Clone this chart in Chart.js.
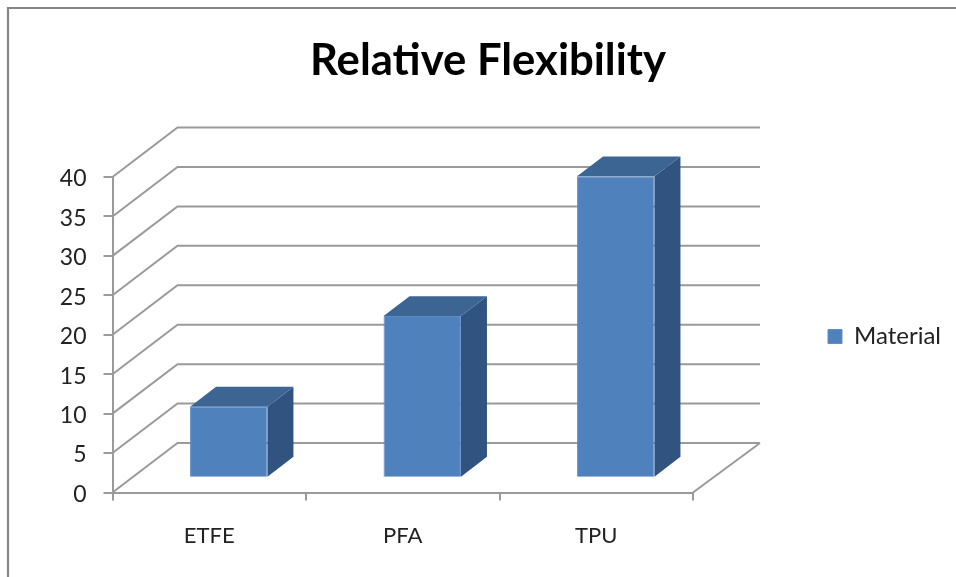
<!DOCTYPE html>
<html>
<head>
<meta charset="utf-8">
<style>
  html, body { margin: 0; padding: 0; background: #fff; }
  #wrap { position: relative; width: 956px; height: 577px; }
</style>
<script src="https://cdn.jsdelivr.net/npm/chart.js@4"></script>
</head>
<body>
<div id="wrap"><canvas id="c" width="956" height="577"></canvas></div>
<script>
const categories = ['ETFE', 'PFA', 'TPU'];
const seriesName = 'Material';
const values = [9, 20.5, 38.2];
const chartTitle = 'Relative Flexibility';

const FONT = 'Lato, "Open Sans", sans-serif';
const LINE = '#9a9a9a';
const FRONT = '#4f81bd';
const TOP = '#3c6594';
const SIDE = '#305380';

// Oblique projection of the chart box: how far the back wall sits from the front plane.
const BOX_DX = 65;
const BOX_DY = -49.5;
// Columns occupy the middle of the floor's depth.
const BAR_NEAR = 0.3;
const BAR_DEPTH = 0.4;

const target = { left: 112.5, right: 693, top: 177, bottom: 492.5 };

const box3d = {
  id: 'box3d',
  beforeDraw(chart) {
    const { ctx, width, height } = chart;
    ctx.save();
    ctx.strokeStyle = '#868686';
    ctx.lineWidth = 2.2;
    ctx.beginPath();
    ctx.moveTo(8, height);
    ctx.lineTo(8, 8);
    ctx.lineTo(width, 8);
    ctx.stroke();
    ctx.restore();
  },
  afterLayout(chart) {
    // Title and legend keep their own spots, independent of the plot margins.
    const tb = chart.titleBlock;
    if (tb) { tb.left = 310; tb.right = 666; tb.top = 34.5; tb.bottom = tb.top + tb.height; }
    const lg = chart.legend;
    if (lg) { lg.top -= 11; lg.bottom -= 11; lg.left = 818; lg.right = 956; }
  },
  beforeDatasetsDraw(chart) {
    const { ctx, scales: { x, y } } = chart;
    const left = x.left, right = x.right, base = y.getPixelForValue(0);
    ctx.save();
    ctx.strokeStyle = LINE;
    ctx.lineWidth = 2;
    ctx.beginPath();
    y.ticks.forEach(t => {
      const py = y.getPixelForValue(t.value);
      ctx.moveTo(left, py);
      ctx.lineTo(left + BOX_DX, py + BOX_DY);
      ctx.lineTo(right + BOX_DX + 2, py + BOX_DY);
    });
    ctx.moveTo(right, base);
    ctx.lineTo(right + BOX_DX + 2, base + BOX_DY);
    ctx.stroke();
    ctx.restore();

    // Shift into the box depth, then add each column's top and side faces.
    const meta = chart.getDatasetMeta(0);
    const ox = BOX_DX * BAR_NEAR, oy = BOX_DY * BAR_NEAR;
    const dx = BOX_DX * BAR_DEPTH, dy = BOX_DY * BAR_DEPTH;
    ctx.save();
    ctx.translate(ox, oy);
    meta.data.forEach(bar => {
      const l = bar.x - bar.width / 2, r = bar.x + bar.width / 2;
      const t = bar.y, b = bar.base;
      ctx.fillStyle = SIDE;
      ctx.beginPath();
      ctx.moveTo(r, t); ctx.lineTo(r + dx, t + dy); ctx.lineTo(r + dx, b + dy); ctx.lineTo(r, b);
      ctx.closePath(); ctx.fill();
      ctx.fillStyle = TOP;
      ctx.beginPath();
      ctx.moveTo(l, t); ctx.lineTo(l + dx, t + dy); ctx.lineTo(r + dx, t + dy); ctx.lineTo(r, t);
      ctx.closePath(); ctx.fill();
    });
  },
  afterDatasetsDraw(chart) {
    chart.ctx.restore();
  }
};

const padding = { left: 8, right: 8, top: 0, bottom: 0 };

const chart = new Chart(document.getElementById('c'), {
  type: 'bar',
  data: {
    labels: categories,
    datasets: [{
      label: seriesName,
      data: values,
      backgroundColor: FRONT,
      borderColor: '#5f8cc5',
      borderWidth: 1,
      barPercentage: 0.4,
      categoryPercentage: 1,
      clip: false
    }]
  },
  options: {
    responsive: false,
    animation: false,
    layout: { padding },
    plugins: {
      title: {
        display: true,
        text: chartTitle,
        color: '#000',
        font: { family: FONT, size: 44, weight: 'bold' },
        padding: { top: 0, bottom: 0 }
      },
      legend: {
        position: 'right',
        labels: {
          boxWidth: 14,
          boxHeight: 14,
          color: '#222',
          font: { family: FONT, size: 24 }
        }
      },
      tooltip: { enabled: false }
    },
    scales: {
      x: {
        grid: { drawOnChartArea: false, color: LINE, lineWidth: 2, tickLength: 8 },
        border: { color: LINE, width: 2 },
        ticks: { color: '#222', padding: 22, font: { family: FONT, size: 22 } }
      },
      y: {
        min: 0,
        max: 40,
        grid: { drawOnChartArea: false, color: LINE, lineWidth: 2, tickLength: 9 },
        border: { color: LINE, width: 2 },
        ticks: { stepSize: 5, color: '#222', padding: 17, labelOffset: 2, font: { family: FONT, size: 23 } }
      }
    }
  },
  plugins: [box3d]
});

// Settle the margins so the front plane lands on its intended rectangle.
for (let i = 0; i < 3; i++) {
  const a = chart.chartArea;
  padding.left += target.left - a.left;
  padding.right += a.right - target.right;
  padding.bottom += a.bottom - target.bottom;
  padding.top += target.top - a.top;
  chart.options.layout.padding = { ...padding };
  chart.update('none');
}
</script>
</body>
</html>
